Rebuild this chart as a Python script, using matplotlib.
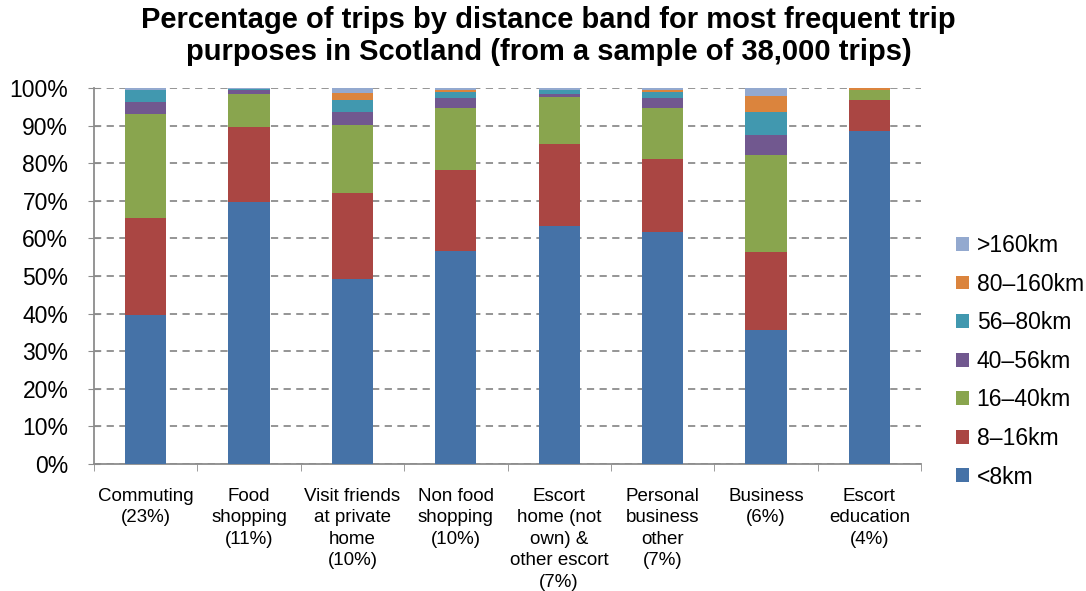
import matplotlib
matplotlib.use("Agg")
import matplotlib.pyplot as plt
import numpy as np

# trip purposes (x axis)
categories = ["Commuting\n(23%)", "Food\nshopping\n(11%)", "Visit friends\nat private\nhome\n(10%)",
              "Non food\nshopping\n(10%)", "Escort\nhome (not\nown) &\nother escort\n(7%)",
              "Personal\nbusiness\nother\n(7%)", "Business\n(6%)", "Escort\neducation\n(4%)"]

# distance bands, % of trips
band_names = ["<8km", "8\u201316km", "16\u201340km", "40\u201356km", "56\u201380km", "80\u2013160km", ">160km"]
lt8 = [39.6, 69.7, 49.2, 56.6, 63.4, 61.8, 35.7, 88.6]
b8_16 = [25.8, 19.9, 22.9, 21.7, 21.7, 19.3, 20.7, 8.2]
b16_40 = [27.7, 8.8, 18.1, 16.4, 12.5, 13.6, 25.8, 2.6]
b40_56 = [3.2, 1.1, 3.4, 2.6, 0.8, 2.6, 5.3, 0.0]
b56_80 = [3.2, 0.2, 3.2, 1.6, 1.1, 1.6, 6.1, 0.0]
b80_160 = [0.1, 0.1, 1.9, 0.7, 0.1, 0.6, 4.3, 0.5]
gt160 = [0.4, 0.2, 1.3, 0.4, 0.4, 0.5, 2.1, 0.1]

colors = ["#4572A7", "#AA4643", "#89A54E", "#71588F", "#4198AF", "#DB843D", "#93A9CF"]

plt.rcParams['font.family'] = ['Liberation Sans', 'DejaVu Sans']

fig = plt.figure(figsize=(10.86, 5.91), dpi=100)
ax = fig.add_axes([94/1086, 127/591, 827/1086, 376/591])

x = np.arange(len(categories))
series = [lt8, b8_16, b16_40, b40_56, b56_80, b80_160, gt160]
bottom = np.zeros(len(categories))
bars = []
for vals, c, name in zip(series, colors, band_names):
    b = ax.bar(x, vals, 0.4, bottom=bottom, color=c, label=name, zorder=3)
    bars.append(b)
    bottom = bottom + np.array(vals)

ax.set_xlim(-0.5, len(categories) - 0.5)
ax.set_ylim(0, 100)
ax.set_yticks(np.arange(0, 101, 10))
ax.set_yticklabels(["%d%%" % v for v in range(0, 101, 10)], fontsize=16.5)
ax.yaxis.grid(True, linestyle=(0, (4, 3)), color="#8c8c8c", linewidth=1.3, zorder=0)
ax.set_xticks(x)
ax.set_xticklabels(categories, fontsize=13.5, linespacing=1.35, va="top")
ax.tick_params(axis="x", length=0, pad=17)
ax.set_xticks(np.arange(-0.5, len(categories)), minor=True)
ax.tick_params(axis="x", which="minor", length=5, color="#8c8c8c", direction="out")
ax.tick_params(axis="y", length=9, color="#8c8c8c", direction="inout", pad=14)

for s in ["top", "right"]:
    ax.spines[s].set_visible(False)
for s in ["left", "bottom"]:
    ax.spines[s].set_color("#8c8c8c")
    ax.spines[s].set_linewidth(1.3)

fig.text(0.505, 0.99, "Percentage of trips by distance band for most frequent trip\npurposes in Scotland (from a sample of 38,000 trips)",
         ha="center", va="top", fontsize=21, fontweight="bold", linespacing=1.2)

handles = bars[::-1]
labels = band_names[::-1]
fig.legend(handles, labels, loc="upper left", bbox_to_anchor=(956/1086, 1 - 234/591),
           frameon=False, fontsize=16.5, handlelength=0.55, handleheight=0.55,
           handletextpad=0.35, labelspacing=0.68, borderpad=0, borderaxespad=0)

fig.savefig("out.png", dpi=100)
